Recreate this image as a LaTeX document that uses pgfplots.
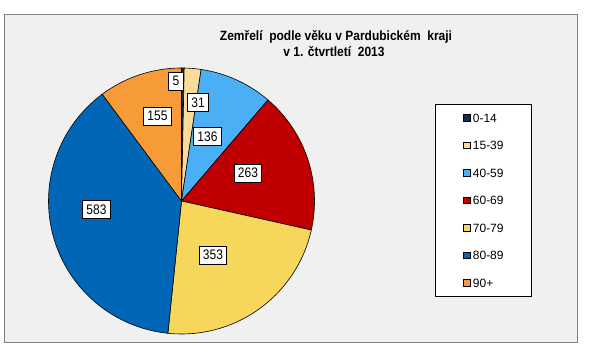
\documentclass[border=0pt]{standalone}
\usepackage{pgfplots}
\pgfplotsset{compat=1.18}
\usepackage{fontspec}
\setmainfont{Liberation Sans}
\definecolor{cA}{HTML}{14285A}
\definecolor{cB}{HTML}{FADB9A}
\definecolor{cC}{HTML}{4BAFF5}
\definecolor{cD}{HTML}{C00000}
\definecolor{cE}{HTML}{F7D65C}
\definecolor{cF}{HTML}{0066B5}
\definecolor{cG}{HTML}{F79B38}
\definecolor{bg}{HTML}{F0F0F0}
\definecolor{frame}{HTML}{808080}
% data: deaths by age group
\def\vA{5}\def\vB{31}\def\vC{136}\def\vD{263}\def\vE{353}\def\vF{583}\def\vG{155}
\pgfmathsetmacro\tot{\vA+\vB+\vC+\vD+\vE+\vF+\vG}
\pgfmathsetmacro\aZ{90}
\pgfmathsetmacro\aA{\aZ-(\vA/\tot)*360}
\pgfmathsetmacro\aB{\aA-(\vB/\tot)*360}
\pgfmathsetmacro\aC{\aB-(\vC/\tot)*360}
\pgfmathsetmacro\aD{\aC-(\vD/\tot)*360}
\pgfmathsetmacro\aE{\aD-(\vE/\tot)*360}
\pgfmathsetmacro\aF{\aE-(\vF/\tot)*360}
\pgfmathsetmacro\aG{\aF-(\vG/\tot)*360}
\def\cx{181.5}\def\cy{157}\def\R{133}
\begin{document}
\begin{tikzpicture}
\begin{axis}[
  width=612pt, height=358pt, scale only axis,
  xmin=0, xmax=612, ymin=0, ymax=358,
  hide axis, clip=false,
  legend image code/.code={\draw[#1,line width=0.4pt] (0pt,-3.25pt) rectangle (6.5pt,3.25pt); \path (9pt,0pt);},
  legend cell align=left,
  legend style={at={(axis cs:435,254)}, anchor=north west, draw=black, line width=0.8pt, fill=white,
    inner xsep=28pt, inner ysep=9.2pt, row sep=18.9pt,
    font=\fontsize{12}{12}\selectfont,
    nodes={inner sep=0pt, text height=8.6pt, text depth=0pt, anchor=west}},
  slice/.style={draw=black, line width=0.6pt, samples=60, variable=\t},
]
\fill[white] (axis cs:0,0) rectangle (axis cs:612,358);
\draw[frame, fill=bg, line width=1pt] (axis cs:4,15) rectangle (axis cs:577,343);
\addplot[slice, fill=cA, domain=\aA:\aZ] ({\cx+\R*cos(\t)},{\cy+\R*sin(\t)}) -- (axis cs:\cx,\cy) -- cycle;
\addlegendentry{0-14}
\addplot[slice, fill=cB, domain=\aB:\aA] ({\cx+\R*cos(\t)},{\cy+\R*sin(\t)}) -- (axis cs:\cx,\cy) -- cycle;
\addlegendentry{15-39}
\addplot[slice, fill=cC, domain=\aC:\aB] ({\cx+\R*cos(\t)},{\cy+\R*sin(\t)}) -- (axis cs:\cx,\cy) -- cycle;
\addlegendentry{40-59}
\addplot[slice, fill=cD, domain=\aD:\aC] ({\cx+\R*cos(\t)},{\cy+\R*sin(\t)}) -- (axis cs:\cx,\cy) -- cycle;
\addlegendentry{60-69}
\addplot[slice, fill=cE, domain=\aE:\aD] ({\cx+\R*cos(\t)},{\cy+\R*sin(\t)}) -- (axis cs:\cx,\cy) -- cycle;
\addlegendentry{70-79}
\addplot[slice, fill=cF, domain=\aF:\aE] ({\cx+\R*cos(\t)},{\cy+\R*sin(\t)}) -- (axis cs:\cx,\cy) -- cycle;
\addlegendentry{80-89}
\addplot[slice, fill=cG, domain=\aG:\aF] ({\cx+\R*cos(\t)},{\cy+\R*sin(\t)}) -- (axis cs:\cx,\cy) -- cycle;
\addlegendentry{90+}
\tikzset{lbl/.style={draw=black, line width=0.8pt, fill=white, inner xsep=3.8pt, inner ysep=3.5pt,
  text height=8.6pt, text depth=0pt, font=\fontsize{12}{12}\selectfont, yscale=1.15, transform shape}}
\node[lbl] at (axis cs:176,277) {\vA};
\node[lbl] at (axis cs:198,255.5) {\vB};
\node[lbl] at (axis cs:207.5,221.5) {\vC};
\node[lbl] at (axis cs:248,185) {\vD};
\node[lbl] at (axis cs:213,103) {\vE};
\node[lbl] at (axis cs:96.5,148.5) {\vF};
\node[lbl] at (axis cs:157.5,242) {\vG};
\node[anchor=base, yscale=1.12, transform shape, font=\bfseries\fontsize{12}{12}\selectfont] at (axis cs:336,317.7) {Zemřelí\ \ podle věku v Pardubickém\ \ kraji};
\node[anchor=base, yscale=1.12, transform shape, font=\bfseries\fontsize{12}{12}\selectfont] at (axis cs:334,301.7) {v 1. čtvrtletí\ \ 2013};
\end{axis}
\end{tikzpicture}
\end{document}
